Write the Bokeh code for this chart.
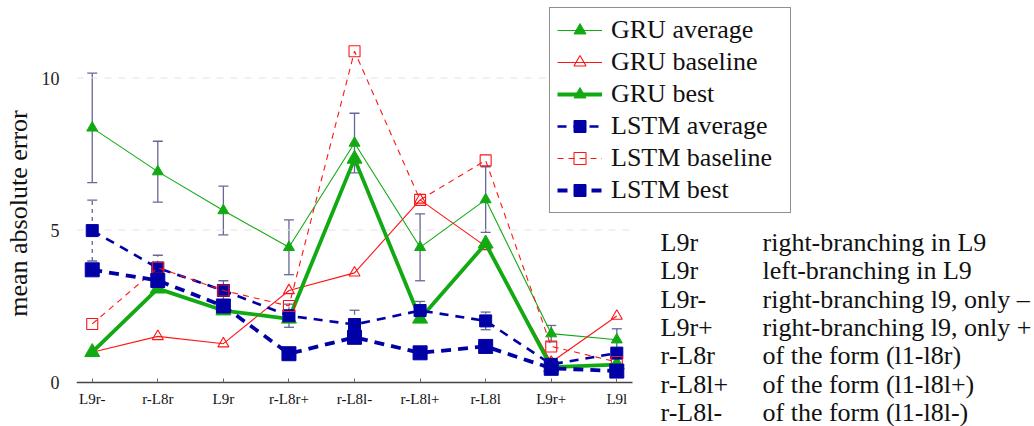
from bokeh.plotting import figure
from bokeh.models import (Legend, LegendItem, Whisker, TeeHead, ColumnDataSource,
                          FixedTicker, Label, Range1d)
from bokeh.embed import file_html
from bokeh.resources import INLINE

# ---------------- data ----------------
categories = ["L9r-", "r-L8r", "L9r", "r-L8r+", "r-L8l-", "r-L8l+", "r-L8l", "L9r+", "L9l"]

gru_avg = [8.36, 6.92, 5.64, 4.43, 7.86, 4.43, 6.00, 1.59, 1.39]
gru_avg_err = [1.80, 1.00, 0.80, 0.90, 0.98, 1.10, 1.08, 0.27, 0.36]
gru_baseline = [0.98, 1.50, 1.26, 3.01, 3.59, 5.99, 4.46, 0.65, 2.17]
gru_best = [0.98, 3.07, 2.35, 2.08, 7.34, 2.08, 4.55, 0.49, 0.57]

lstm_avg = [4.98, 3.75, 3.01, 2.18, 1.89, 2.35, 2.01, 0.58, 0.95]
lstm_avg_err = [1.00, 0.42, 0.32, 0.38, 0.47, 0.30, 0.29, 0.10, 0.10]
lstm_baseline = [1.91, 3.76, 3.01, 2.50, 10.88, 5.99, 7.29, 1.17, 0.66]
lstm_best = [3.69, 3.34, 2.50, 0.93, 1.47, 0.96, 1.17, 0.45, 0.36]

y_ticks = [0, 5, 10]
grid_ticks = [5, 10]

key_abbr = ["L9r", "L9r", "L9r-", "L9r+", "r-L8r", "r-L8l+", "r-L8l-"]
key_desc = ["right-branching in L9", "left-branching in L9",
            "right-branching l9, only \u2013", "right-branching l9, only +",
            "of the form (l1-l8r)", "of the form (l1-l8l+)", "of the form (l1-l8l-)"]

# ---------------- style ----------------
GREEN = "#12aa12"
RED = "#ff1414"
BLUE = "#0000a6"
ERR = "#666699"
FONT = "Liberation Serif"

xs = list(range(len(categories)))
PAD = 0.24
x_lo, x_hi = xs[0] - PAD, xs[-1] + PAD

# the frame covers the whole canvas so that legend and key text are not clipped
PX_PER_X = 65.57
PX_PER_Y = 30.4
W, H = 1034, 426
LEFT = 76
FRAME_W = W - LEFT
Y0_FROM_BOTTOM = 44.5           # pixels from frame bottom to y = 0

x_range = Range1d(x_lo, x_lo + FRAME_W / PX_PER_X)
y_start = -Y0_FROM_BOTTOM / PX_PER_Y
y_range = Range1d(y_start, y_start + H / PX_PER_Y)

p = figure(width=W, height=H, x_range=x_range, y_range=y_range,
           output_backend="svg", toolbar_location=None,
           min_border_left=LEFT, min_border_right=0,
           min_border_top=0, min_border_bottom=0)
p.outline_line_color = None
p.background_fill_color = "white"
p.xgrid.visible = False
p.ygrid.visible = False

# dashed horizontal grid lines limited to the data area
p.segment(x0=[x_lo] * len(grid_ticks), x1=[x_hi] * len(grid_ticks),
          y0=grid_ticks, y1=grid_ticks,
          line_color="#e2e2e2", line_dash="7 7", line_width=1.2)

# x axis at y = 0
p.xaxis.fixed_location = 0
p.xaxis.bounds = (x_lo, x_hi)
p.xaxis.ticker = FixedTicker(ticks=xs)
p.xaxis.major_label_overrides = {i: c for i, c in enumerate(categories)}
p.xaxis.major_label_text_font = FONT
p.xaxis.major_label_text_font_size = "15px"
p.xaxis.major_label_text_color = "#111111"
p.xaxis.major_label_standoff = 9
p.xaxis.axis_line_color = "#444444"
p.xaxis.axis_line_width = 1.3
p.xaxis.major_tick_in = 4
p.xaxis.major_tick_out = 0
p.xaxis.major_tick_line_color = "#666666"
p.xaxis.minor_tick_line_color = None

# y axis
p.yaxis.bounds = (0, 11)
p.yaxis.ticker = FixedTicker(ticks=y_ticks)
p.yaxis.axis_line_color = None
p.yaxis.major_tick_line_color = None
p.yaxis.minor_tick_line_color = None
p.yaxis.major_label_text_font = FONT
p.yaxis.major_label_text_font_size = "18px"
p.yaxis.major_label_text_color = "#222222"
p.yaxis.major_label_standoff = 11
p.yaxis.axis_label = "mean absolute error"
p.yaxis.axis_label_text_font = FONT
p.yaxis.axis_label_text_font_size = "26px"
p.yaxis.axis_label_text_font_style = "normal"
p.yaxis.axis_label_text_color = "#111111"
p.yaxis.axis_label_standoff = 6

# error bars
def add_err(vals, errs, dash):
    src = ColumnDataSource(dict(x=xs,
                                upper=[v + e for v, e in zip(vals, errs)],
                                lower=[v - e for v, e in zip(vals, errs)]))
    w = Whisker(source=src, base="x", upper="upper", lower="lower",
                line_color=ERR, line_width=1.3, line_dash=dash,
                upper_head=TeeHead(size=10, line_color=ERR, line_width=1.3),
                lower_head=TeeHead(size=10, line_color=ERR, line_width=1.3))
    p.add_layout(w)

add_err(gru_avg, gru_avg_err, "solid")
add_err(lstm_avg, lstm_avg_err, "4 4")

# series
items = []

l = p.line(xs, gru_avg, line_color=GREEN, line_width=1.1)
m = p.scatter(xs, gru_avg, marker="triangle", size=11, fill_color=GREEN, line_color=GREEN)
items.append(LegendItem(label="GRU average", renderers=[l, m]))

l = p.line(xs, gru_baseline, line_color=RED, line_width=1.1)
m = p.scatter(xs, gru_baseline, marker="triangle", size=11, fill_color="white",
              fill_alpha=0, line_color=RED, line_width=1.1)
items.append(LegendItem(label="GRU baseline", renderers=[l, m]))

l = p.line(xs, gru_best, line_color=GREEN, line_width=3.8)
m = p.scatter(xs, gru_best, marker="triangle", size=15, fill_color=GREEN, line_color=GREEN)
items.append(LegendItem(label="GRU best", renderers=[l, m]))

l = p.line(xs, lstm_avg, line_color=BLUE, line_width=2.6, line_dash="9 7")
m = p.scatter(xs, lstm_avg, marker="square", size=12, fill_color=BLUE, line_color=BLUE)
items.append(LegendItem(label="LSTM average", renderers=[l, m]))

l = p.line(xs, lstm_baseline, line_color=RED, line_width=1.1, line_dash="6 5")
m = p.scatter(xs, lstm_baseline, marker="square", size=11, fill_color="white",
              fill_alpha=0, line_color=RED, line_width=1.1)
items.append(LegendItem(label="LSTM baseline", renderers=[l, m]))

l = p.line(xs, lstm_best, line_color=BLUE, line_width=3.8, line_dash="10 7")
m = p.scatter(xs, lstm_best, marker="square", size=14, fill_color=BLUE, line_color=BLUE)
items.append(LegendItem(label="LSTM best", renderers=[l, m]))

legend = Legend(items=items, location=(473, 213),
                label_text_font=FONT, label_text_font_size="26px",
                label_text_color="#111111",
                glyph_width=45, glyph_height=30, label_height=30, label_width=172,
                spacing=2, padding=7, margin=0, label_standoff=9,
                border_line_color="#222222", border_line_width=1,
                background_fill_color="white", background_fill_alpha=1)
p.add_layout(legend)

# key table on the right (screen units relative to the frame's bottom-left)
ROW_TOP = 184.0                 # first row centre, pixels above frame bottom
ROW_STEP = 28.3
for i, (a, d) in enumerate(zip(key_abbr, key_desc)):
    yy = ROW_TOP - i * ROW_STEP
    p.add_layout(Label(x=584, y=yy, x_units="screen", y_units="screen", text=a,
                       text_font=FONT, text_font_size="26px", text_color="#111111",
                       text_baseline="middle", text_align="left"))
    p.add_layout(Label(x=686, y=yy, x_units="screen", y_units="screen", text=d,
                       text_font=FONT, text_font_size="26px", text_color="#111111",
                       text_baseline="middle", text_align="left"))

open("out.html", "w").write(file_html(p, INLINE))
